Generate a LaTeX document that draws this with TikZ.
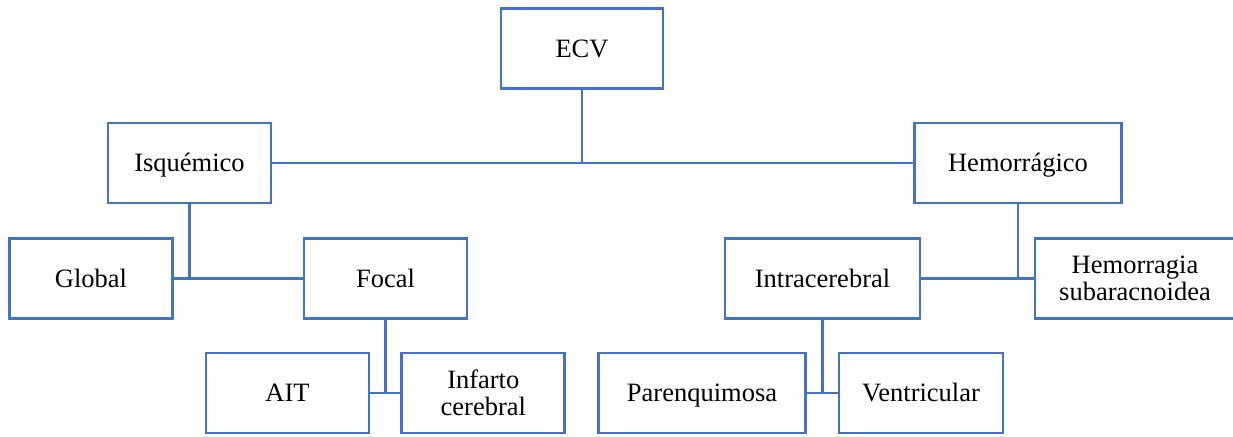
\documentclass[tikz,border=0pt]{standalone}
\usepackage{fontspec}
\setmainfont{Liberation Serif}
\definecolor{boxblue}{HTML}{4472C4}
\begin{document}
\begin{tikzpicture}[x=1pt,y=-1pt,
  box/.style={draw=boxblue, line width=2.8pt, fill=white, rectangle, inner sep=0pt,
    minimum height=80pt, align=center, font=\fontsize{26.5}{27}\selectfont},
  onebox/.style={box, text height=17.5pt, text depth=0pt},
  conn/.style={draw=boxblue, line width=2.8pt}]
\useasboundingbox (0,0) rectangle (1233,436);
% top level
\node[onebox, minimum width=162pt] (ecv) at (582,48.5) {ECV};
\node[onebox, minimum width=163pt] (isq) at (189.5,163) {Isquémico};
\node[onebox, minimum width=206.5pt] (hem) at (1018,163) {Hemorrágico};
% second level
\node[onebox, minimum width=163pt] (glo) at (91,278.5) {Global};
\node[onebox, minimum width=163pt] (foc) at (385.5,278.5) {Focal};
\node[onebox, minimum width=195pt] (int) at (822.5,278.5) {Intracerebral};
\node[box, minimum width=200pt] (sub) at (1135,278.5) {Hemorragia\\subaracnoidea};
% third level
\node[onebox, minimum width=163pt] (ait) at (287.5,393) {AIT};
\node[box, minimum width=163pt] (inf) at (483.3,393) {Infarto\\cerebral};
\node[onebox, minimum width=207.7pt] (par) at (702,393) {Parenquimosa};
\node[onebox, minimum width=164pt] (ven) at (921,393) {Ventricular};
% connectors
\coordinate (j1) at (ecv.south |- isq.east);
\draw[conn] (ecv.south) -- (j1);
\draw[conn] (isq.east) -- (hem.west);
\coordinate (j2) at (isq.south |- glo.east);
\draw[conn] (isq.south) -- (j2);
\draw[conn] (glo.east) -- (foc.west);
\coordinate (j3) at (hem.south |- int.east);
\draw[conn] (hem.south) -- (j3);
\draw[conn] (int.east) -- (sub.west);
\coordinate (j4) at (foc.south |- ait.east);
\draw[conn] (foc.south) -- (j4);
\draw[conn] (ait.east) -- (inf.west);
\coordinate (j5) at (int.south |- par.east);
\draw[conn] (int.south) -- (j5);
\draw[conn] (par.east) -- (ven.west);
\end{tikzpicture}
\end{document}
